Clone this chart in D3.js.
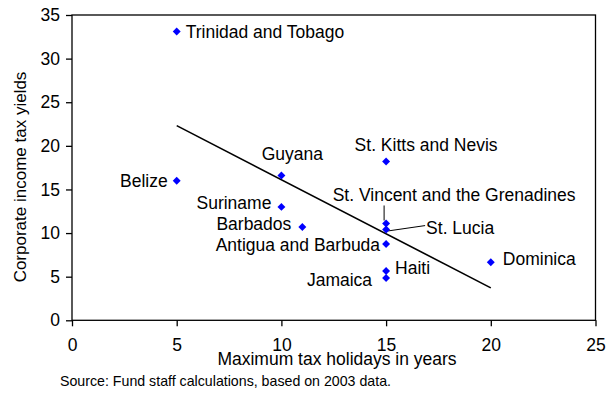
<!DOCTYPE html>
<html lang="en">
<head>
    <meta charset="UTF-8">
    <title>Corporate income tax yields vs tax holidays</title>
    <script src="https://d3js.org/d3.v7.min.js"></script>
    <style>
        body {
            margin: 0;
            padding: 0;
            background-color: #fff;
        }
        svg {
            display: block;
            font-family: Arial, "Liberation Sans", sans-serif;
        }
        .tick text {
            font-size: 17.5px;
            fill: #000;
        }
        .tick line {
            stroke: #000;
            stroke-width: 1.3;
        }
    </style>
</head>
<body>
    <svg id="chart" width="613" height="396"></svg>

    <script>
        // Data
        const countries = ['Trinidad and Tobago', 'Belize', 'Guyana', 'Suriname', 'Barbados',
            'St. Kitts and Nevis', 'St. Vincent and the Grenadines', 'St. Lucia',
            'Antigua and Barbuda', 'Haiti', 'Jamaica', 'Dominica'];
        const holidays = [5, 5, 10, 10, 11, 15, 15, 15, 15, 15, 15, 20];
        const yields = [33.1, 16.0, 16.6, 13.0, 10.7, 18.2, 11.1, 10.4, 8.75, 5.65, 4.85, 6.65];
        const xTicks = [0, 5, 10, 15, 20, 25];
        const yTicks = [0, 5, 10, 15, 20, 25, 30, 35];

        // Label placement relative to each point (dx, dy, anchor)
        const labelPos = [
            [9, 6, 'start'], [-9, 6, 'end'], [11, -15.5, 'middle'], [-10, 2, 'end'],
            [-11, 3, 'end'], [40, -10.7, 'middle'], [68, -22.7, 'middle'], [40, 4, 'start'],
            [-6, 7, 'end'], [9, 3, 'start'], [-14, 8, 'end'], [12, 3, 'start']
        ];

        const points = countries.map((c, i) => ({name: c, x: holidays[i], y: yields[i], pos: labelPos[i]}));

        const svg = d3.select('#chart');
        const plotLeft = 72, plotRight = 595.5, plotTop = 15, plotBottom = 320.3;

        const x = d3.scaleLinear().domain([0, 25]).range([plotLeft, plotRight]);
        const y = d3.scaleLinear().domain([0, 35]).range([plotBottom, plotTop]);

        // Axes
        svg.append('g')
            .attr('transform', `translate(0,${plotBottom})`)
            .call(d3.axisBottom(x).tickValues(xTicks).tickSize(6).tickPadding(12))
            .call(g => g.select('.domain').remove());

        svg.append('g')
            .attr('transform', `translate(${plotLeft},0)`)
            .call(d3.axisLeft(y).tickValues(yTicks).tickSize(6).tickPadding(6))
            .call(g => g.select('.domain').remove());

        // Plot frame
        svg.append('rect')
            .attr('x', plotLeft)
            .attr('y', plotTop)
            .attr('width', plotRight - plotLeft)
            .attr('height', plotBottom - plotTop)
            .attr('fill', 'none')
            .attr('stroke', '#000')
            .attr('stroke-width', 1.3);

        // Linear fit
        const mx = d3.mean(holidays), my = d3.mean(yields);
        const sxy = d3.sum(holidays, (v, i) => (v - mx) * (yields[i] - my));
        const sxx = d3.sum(holidays, v => (v - mx) * (v - mx));
        const slope = sxy / sxx;
        const intercept = my - slope * mx;
        const [x0, x1] = d3.extent(holidays);

        svg.append('line')
            .attr('x1', x(x0))
            .attr('y1', y(intercept + slope * x0))
            .attr('x2', x(x1))
            .attr('y2', y(intercept + slope * x1))
            .attr('stroke', '#000')
            .attr('stroke-width', 1.6);

        // Leader lines for the crowded labels
        const vin = points[6], luc = points[7];
        svg.append('line')
            .attr('x1', x(vin.x) - 2).attr('y1', y(vin.y) - 18)
            .attr('x2', x(vin.x) - 2).attr('y2', y(vin.y) - 3)
            .attr('stroke', '#000').attr('stroke-width', 1);
        svg.append('line')
            .attr('x1', x(luc.x) + 1).attr('y1', y(luc.y) + 1.5)
            .attr('x2', x(luc.x) + 39).attr('y2', y(luc.y) - 4)
            .attr('stroke', '#000').attr('stroke-width', 1);

        // Diamond markers
        svg.selectAll('.pt')
            .data(points)
            .enter()
            .append('path')
            .attr('class', 'pt')
            .attr('d', d3.symbol().type(d3.symbolDiamond2).size(40))
            .attr('transform', d => `translate(${x(d.x)},${y(d.y)})`)
            .attr('fill', '#0000ff');

        // Point labels
        svg.selectAll('.lbl')
            .data(points)
            .enter()
            .append('text')
            .attr('class', 'lbl')
            .attr('x', d => x(d.x) + d.pos[0])
            .attr('y', d => y(d.y) + d.pos[1])
            .attr('text-anchor', d => d.pos[2])
            .attr('font-size', 17.5)
            .attr('fill', '#000')
            .text(d => d.name);

        // Axis titles
        svg.append('text')
            .attr('x', 337)
            .attr('y', 365)
            .attr('text-anchor', 'middle')
            .attr('font-size', 17.5)
            .text('Maximum tax holidays in years');

        svg.append('text')
            .attr('transform', 'translate(26,177) rotate(-90)')
            .attr('text-anchor', 'middle')
            .attr('font-size', 17)
            .text('Corporate income tax yields');

        svg.append('text')
            .attr('x', 60)
            .attr('y', 386)
            .attr('font-size', 14.2)
            .text('Source: Fund staff calculations, based on 2003 data.');
    </script>
</body>
</html>
